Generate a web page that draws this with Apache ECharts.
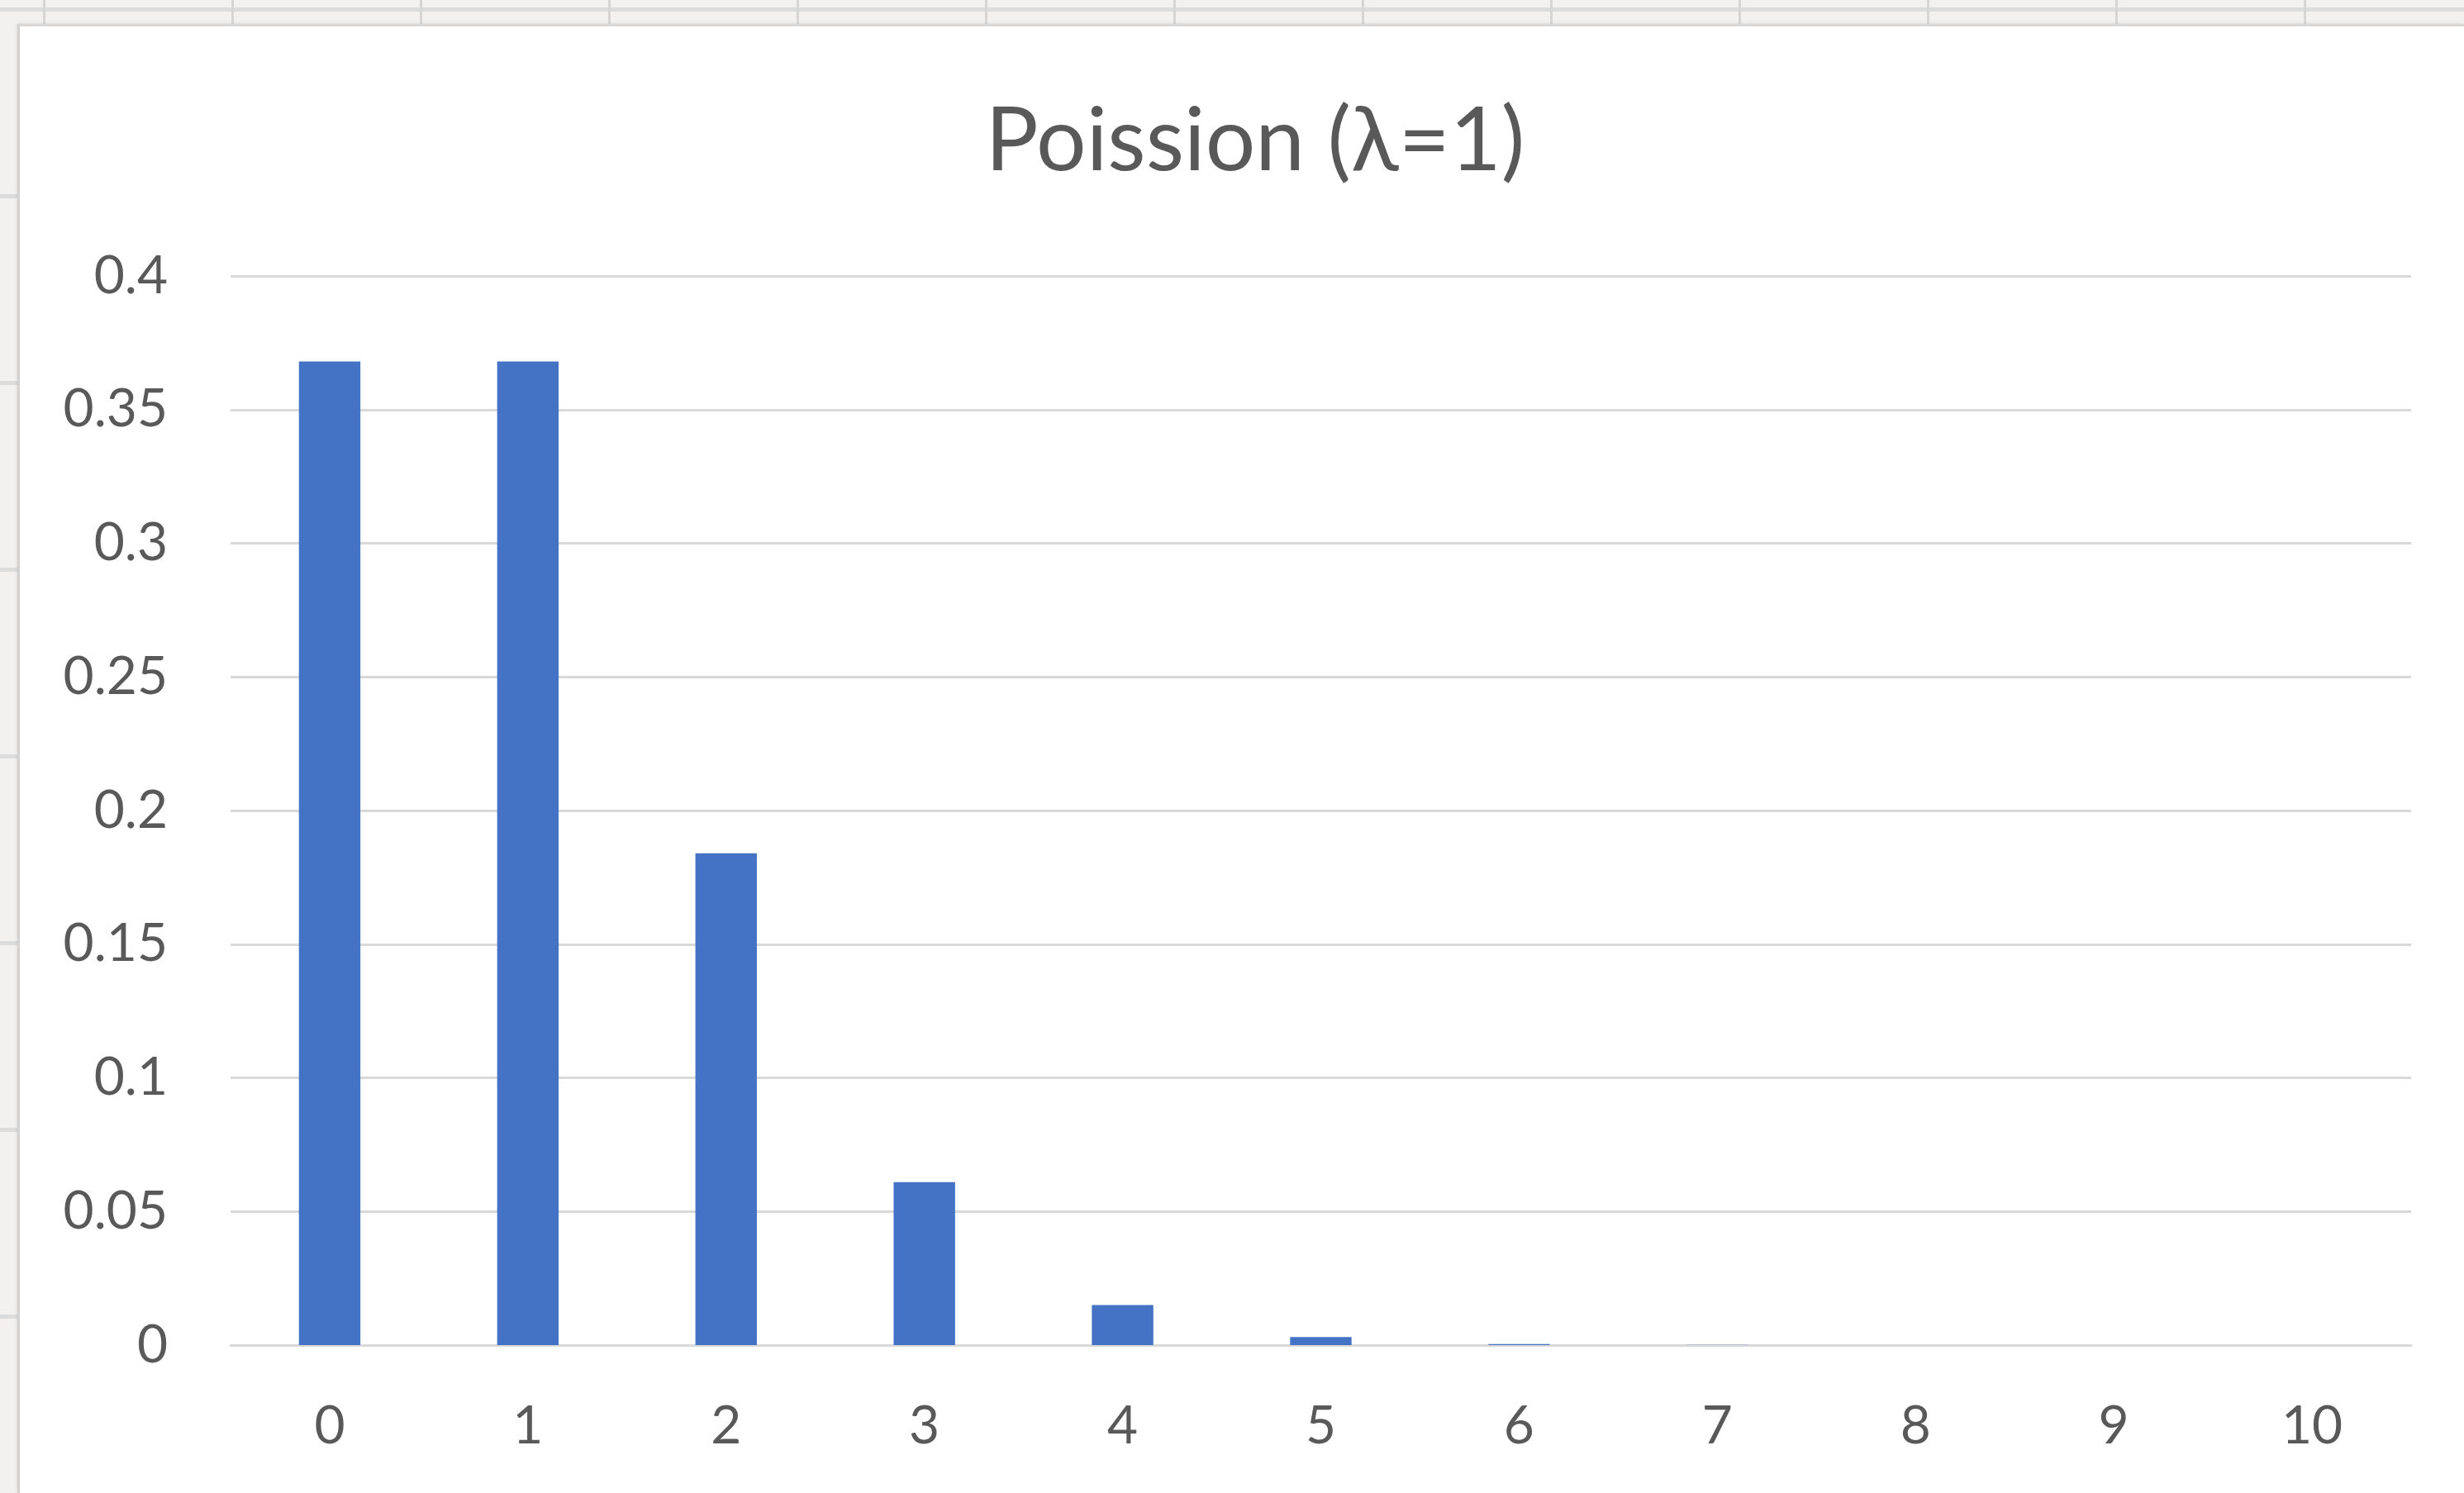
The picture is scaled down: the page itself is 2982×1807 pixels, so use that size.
<!DOCTYPE html>
<html>
<head>
<meta charset="utf-8">
<script src="https://cdn.jsdelivr.net/npm/echarts@6/dist/echarts.min.js"></script>
<style>
  html, body { margin: 0; padding: 0; width: 2982px; height: 1807px; overflow: hidden; }
  body {
    background-color: #f2f1f0;
    background-image:
      linear-gradient(to right, #d6d6d6 3px, transparent 3px),
      linear-gradient(to bottom, #dcdcdc 5px, transparent 5px);
    background-size: 228px 226px, 228px 226px;
    background-position: 52px 0px, 0px 9px;
  }
  #frame {
    position: absolute; left: 21px; top: 29px; right: 0; bottom: 0;
    background: #ffffff;
    border-left: 3px solid #d2d2d2;
    border-top: 3px solid #d8d8d8;
    box-shadow: -1px -1px 3px rgba(0,0,0,0.08);
  }
  #chart { position: absolute; left: 26px; top: 33px; width: 2956px; height: 1774px; }
</style>
</head>
<body>
<div id="frame"></div>
<div id="chart"></div>
<script>
const titleText = 'Poission (\u03BB=1)';
const categories = ['0', '1', '2', '3', '4', '5', '6', '7', '8', '9', '10'];
const probabilities = [0.368, 0.368, 0.184, 0.061, 0.015, 0.003, 0.0004, 0.0001, 0.00001, 0, 0];
const yTicks = [0, 0.05, 0.1, 0.15, 0.2, 0.25, 0.3, 0.35, 0.4];

const chart = echarts.init(document.getElementById('chart'), null, { renderer: 'canvas' });
const fontFamily = 'Lato, "Open Sans", sans-serif';
chart.setOption({
  backgroundColor: 'transparent',
  animation: false,
  title: {
    text: titleText,
    left: 1488,
    textAlign: 'center',
    top: 80,
    textStyle: { fontFamily: fontFamily, fontSize: 107, fontWeight: 'normal', color: '#595959' }
  },
  grid: { left: 253, right: 64, top: 301, bottom: 179, containLabel: false },
  xAxis: {
    type: 'category',
    data: categories,
    axisLine: { show: true, lineStyle: { color: '#d9d9d9', width: 3 } },
    axisTick: { show: false },
    axisLabel: { fontFamily: fontFamily, fontSize: 64, color: '#595959', margin: 66 },
    splitLine: { show: false }
  },
  yAxis: {
    type: 'value',
    min: yTicks[0],
    max: yTicks[yTicks.length - 1],
    interval: 0.05,
    axisLine: { show: false },
    axisTick: { show: false },
    axisLabel: {
      fontFamily: fontFamily, fontSize: 64, color: '#595959', margin: 76,
      formatter: function (v) { return String(parseFloat(v.toFixed(2))); }
    },
    splitLine: { show: true, lineStyle: { color: '#d9d9d9', width: 3 } }
  },
  series: [{
    type: 'bar',
    data: probabilities,
    barWidth: '31%',
    itemStyle: { color: '#4472c4' }
  }]
});
</script>
</body>
</html>
